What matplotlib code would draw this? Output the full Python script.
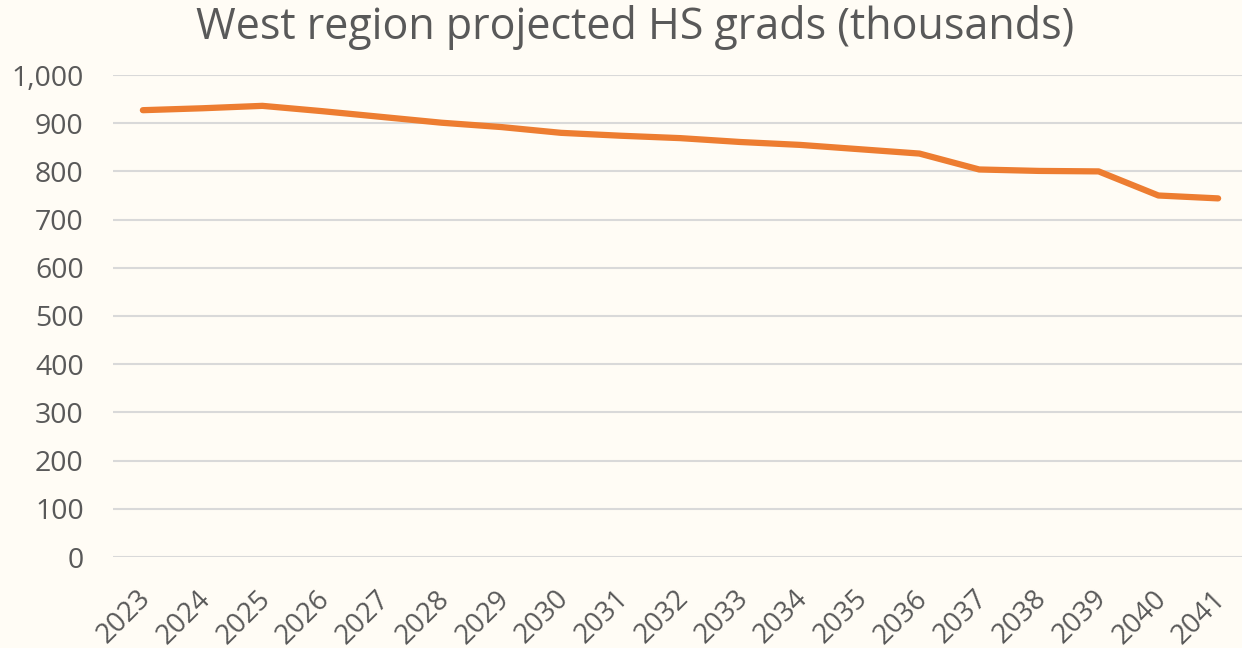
import numpy as np
import matplotlib.pyplot as plt
import matplotlib.transforms as mtransforms

years = [str(y) for y in range(2023, 2042)]
grads = [927, 931, 936, 925, 913, 901, 892, 880, 874, 869, 861, 855, 846, 837,
         804, 801, 800, 750, 744]

bg = "#FFFCF5"
txt = "#595959"

plt.rcParams["font.family"] = ["Open Sans", "DejaVu Sans"]

fig = plt.figure(figsize=(12.42, 6.48), dpi=100, facecolor=bg)
ax = fig.add_axes([113 / 1242, 1 - 557 / 648, (1248 - 113) / 1242, (557 - 75) / 648])
ax.set_facecolor(bg)

x = np.arange(len(years))
ax.plot(x, grads, color="#ED7D31", lw=4.5, solid_capstyle="round", solid_joinstyle="round", zorder=3)

ax.set_xlim(-0.5, len(years) - 0.5)
ax.set_ylim(0, 1000)
ax.set_yticks(range(0, 1001, 100))
ax.set_yticklabels([f"{v:,}" for v in range(0, 1001, 100)])
ax.set_xticks(x)
ax.set_xticklabels(years, rotation=45, ha="right", rotation_mode="anchor")

ax.grid(axis="y", color="#D9D9D9", lw=1.5)
ax.set_axisbelow(True)
for s in ax.spines.values():
    s.set_visible(False)
ax.tick_params(axis="both", length=0, colors=txt)
ax.tick_params(axis="y", pad=21, labelsize=20.5)
ax.tick_params(axis="x", pad=20, labelsize=20)

# nudge the rotated year labels a bit to the left
off = mtransforms.ScaledTranslation(-6 / 100, 0, fig.dpi_scale_trans)
for lab in ax.get_xticklabels():
    lab.set_transform(lab.get_transform() + off)

fig.text(635 / 1242, 1 - 27 / 648, "West region projected HS grads (thousands)",
         ha="center", va="center", fontsize=31, color=txt)

fig.savefig("out.png", dpi=100, facecolor=bg)
